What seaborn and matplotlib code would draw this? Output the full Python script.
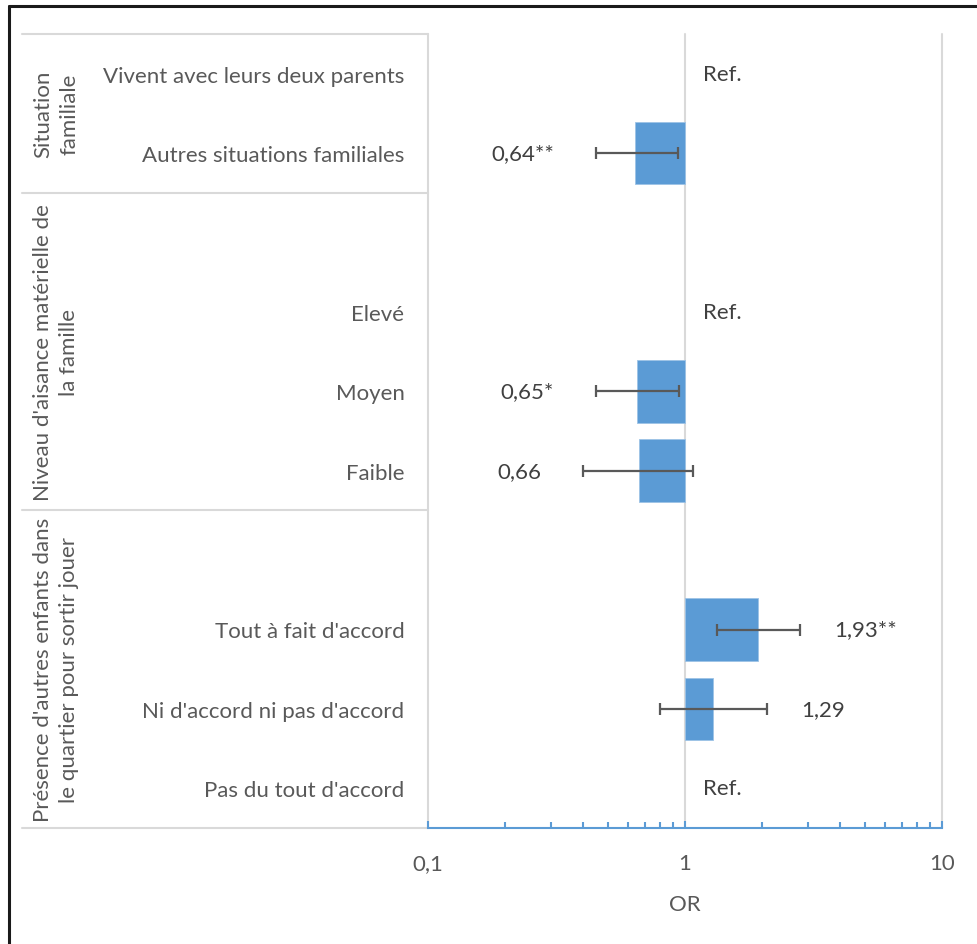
import numpy as np
import pandas as pd
import matplotlib
matplotlib.use("Agg")
import matplotlib.pyplot as plt
from matplotlib.lines import Line2D
import seaborn as sns

# ---------------- data ----------------
groups = ["Situation\nfamiliale",
          "Niveau d'aisance matérielle de\nla famille",
          "Présence d'autres enfants dans\nle quartier pour sortir jouer"]
group_rows = [[0, 1], [2, 3, 4, 5], [6, 7, 8, 9]]
categories = ["Vivent avec leurs deux parents", "Autres situations familiales", "",
              "Elevé", "Moyen", "Faible", "",
              "Tout à fait d'accord", "Ni d'accord ni pas d'accord", "Pas du tout d'accord"]
odds = [1.0, 0.64, np.nan, 1.0, 0.65, 0.66, np.nan, 1.93, 1.29, 1.0]
ci_low = [np.nan, 0.45, np.nan, np.nan, 0.45, 0.40, np.nan, 1.33, 0.80, np.nan]
ci_high = [np.nan, 0.94, np.nan, np.nan, 0.95, 1.07, np.nan, 2.80, 2.08, np.nan]
value_labels = ["Ref.", "0,64**", "", "Ref.", "0,65*", "0,66", "", "1,93**", "1,29", "Ref."]
tick_values = [0.1, 1, 10]
tick_labels = ["0,1", "1", "10"]

BLUE = "#5B9BD5"
GRID = "#D9D9D9"
TXT = "#595959"
DARK = "#404040"
FS = 16

sns.set_theme(style="white")
plt.rcParams["font.family"] = ["Lato", "DejaVu Sans"]

fig = plt.figure(figsize=(9.78, 9.45), dpi=100)
W, H = 978, 945
ax = fig.add_axes([428 / W, 1 - 829 / H, (942 - 428) / W, (829 - 35) / H])

keys = [f"r{i}" for i in range(len(categories))]
df = pd.DataFrame({"key": keys, "odds": odds, "low": ci_low, "high": ci_high})
df["logor"] = np.log10(df["odds"])
bars = df[df["odds"].notna() & (df["odds"] != 1.0)]

sns.barplot(data=bars, x="logor", y="key", order=keys, orient="h",
            color=BLUE, saturation=1, width=0.79, errorbar=None,
            edgecolor="#9DC3E6", linewidth=0.6, ax=ax)

pos = np.arange(len(categories))
lo = np.log10(np.array(ci_low))
hi = np.log10(np.array(ci_high))
lg = np.log10(np.array(odds))
m = ~np.isnan(lo)
ax.errorbar(lg[m], pos[m], xerr=[lg[m] - lo[m], hi[m] - lg[m]], fmt="none",
            ecolor=TXT, elinewidth=1.6, capsize=4.5, capthick=1.6, zorder=4)

# value labels
for i, lab in enumerate(value_labels):
    if not lab:
        continue
    if lab == "Ref.":
        ax.annotate(lab, (0, pos[i]), xytext=(13, 0), textcoords="offset points",
                    ha="left", va="center", fontsize=FS, color=DARK)
    elif odds[i] < 1:
        ax.annotate(lab, (lo[i], pos[i]), xytext=(-30, 0), textcoords="offset points",
                    ha="right", va="center", fontsize=FS, color=DARK)
    else:
        ax.annotate(lab, (hi[i], pos[i]), xytext=(25, 0), textcoords="offset points",
                    ha="left", va="center", fontsize=FS, color=DARK)

# axes limits / ticks
ax.set_xlim(np.log10(tick_values[0]), np.log10(tick_values[-1]))
ax.set_ylim(len(categories) - 0.5, -0.5)
ax.set_xticks(np.log10(tick_values))
ax.set_xticklabels(tick_labels)
minor = [np.log10(k * d) for d in (0.1, 1) for k in range(2, 10)]
ax.set_xticks(minor, minor=True)
ax.tick_params(axis="x", which="both", bottom=True, direction="in", colors=BLUE,
               labelcolor=TXT, labelsize=FS, pad=18)
ax.tick_params(axis="x", which="major", length=5, width=1.5)
ax.tick_params(axis="x", which="minor", length=4, width=1.5)
ax.set_yticks(pos)
ax.set_yticklabels(categories)
ax.tick_params(axis="y", left=False, length=0, pad=17, labelsize=FS, labelcolor=TXT)
ax.set_xlabel("OR", fontsize=FS, color=TXT, labelpad=15)
ax.set_ylabel("")

for s in ["top", "right", "left"]:
    ax.spines[s].set_visible(False)
ax.spines["bottom"].set_color(BLUE)
ax.spines["bottom"].set_linewidth(1.5)
ax.spines["bottom"].set_zorder(5)

# vertical gridlines
for v in tick_values:
    ax.axvline(np.log10(v), color=GRID, lw=1.5, zorder=0, clip_on=False)

# group separators and group labels
ytr = ax.get_yaxis_transform()
x_left = (22 - 428) / (942 - 428)
bounds = [-0.5] + [rows[-1] + 0.5 for rows in group_rows]
for b in bounds:
    ax.plot([x_left, 0], [b, b], color=GRID, lw=1.5, transform=ytr, clip_on=False)
x_grp = (56 - 428) / (942 - 428)
for g, rows in zip(groups, group_rows):
    ax.text(x_grp, np.mean(rows), g, transform=ytr, rotation=90, ha="center",
            va="center", multialignment="center", fontsize=FS, color=TXT,
            linespacing=1.4)

# outer frame (left and top edges only are visible)
fig.add_artist(Line2D([9 / W, 9 / W], [0, 1 - 7 / H], transform=fig.transFigure,
                      color="#1a1a1a", lw=2.2))
fig.add_artist(Line2D([9 / W, 1], [1 - 7 / H, 1 - 7 / H], transform=fig.transFigure,
                      color="#1a1a1a", lw=2.2))

fig.savefig("out.png", dpi=100)
